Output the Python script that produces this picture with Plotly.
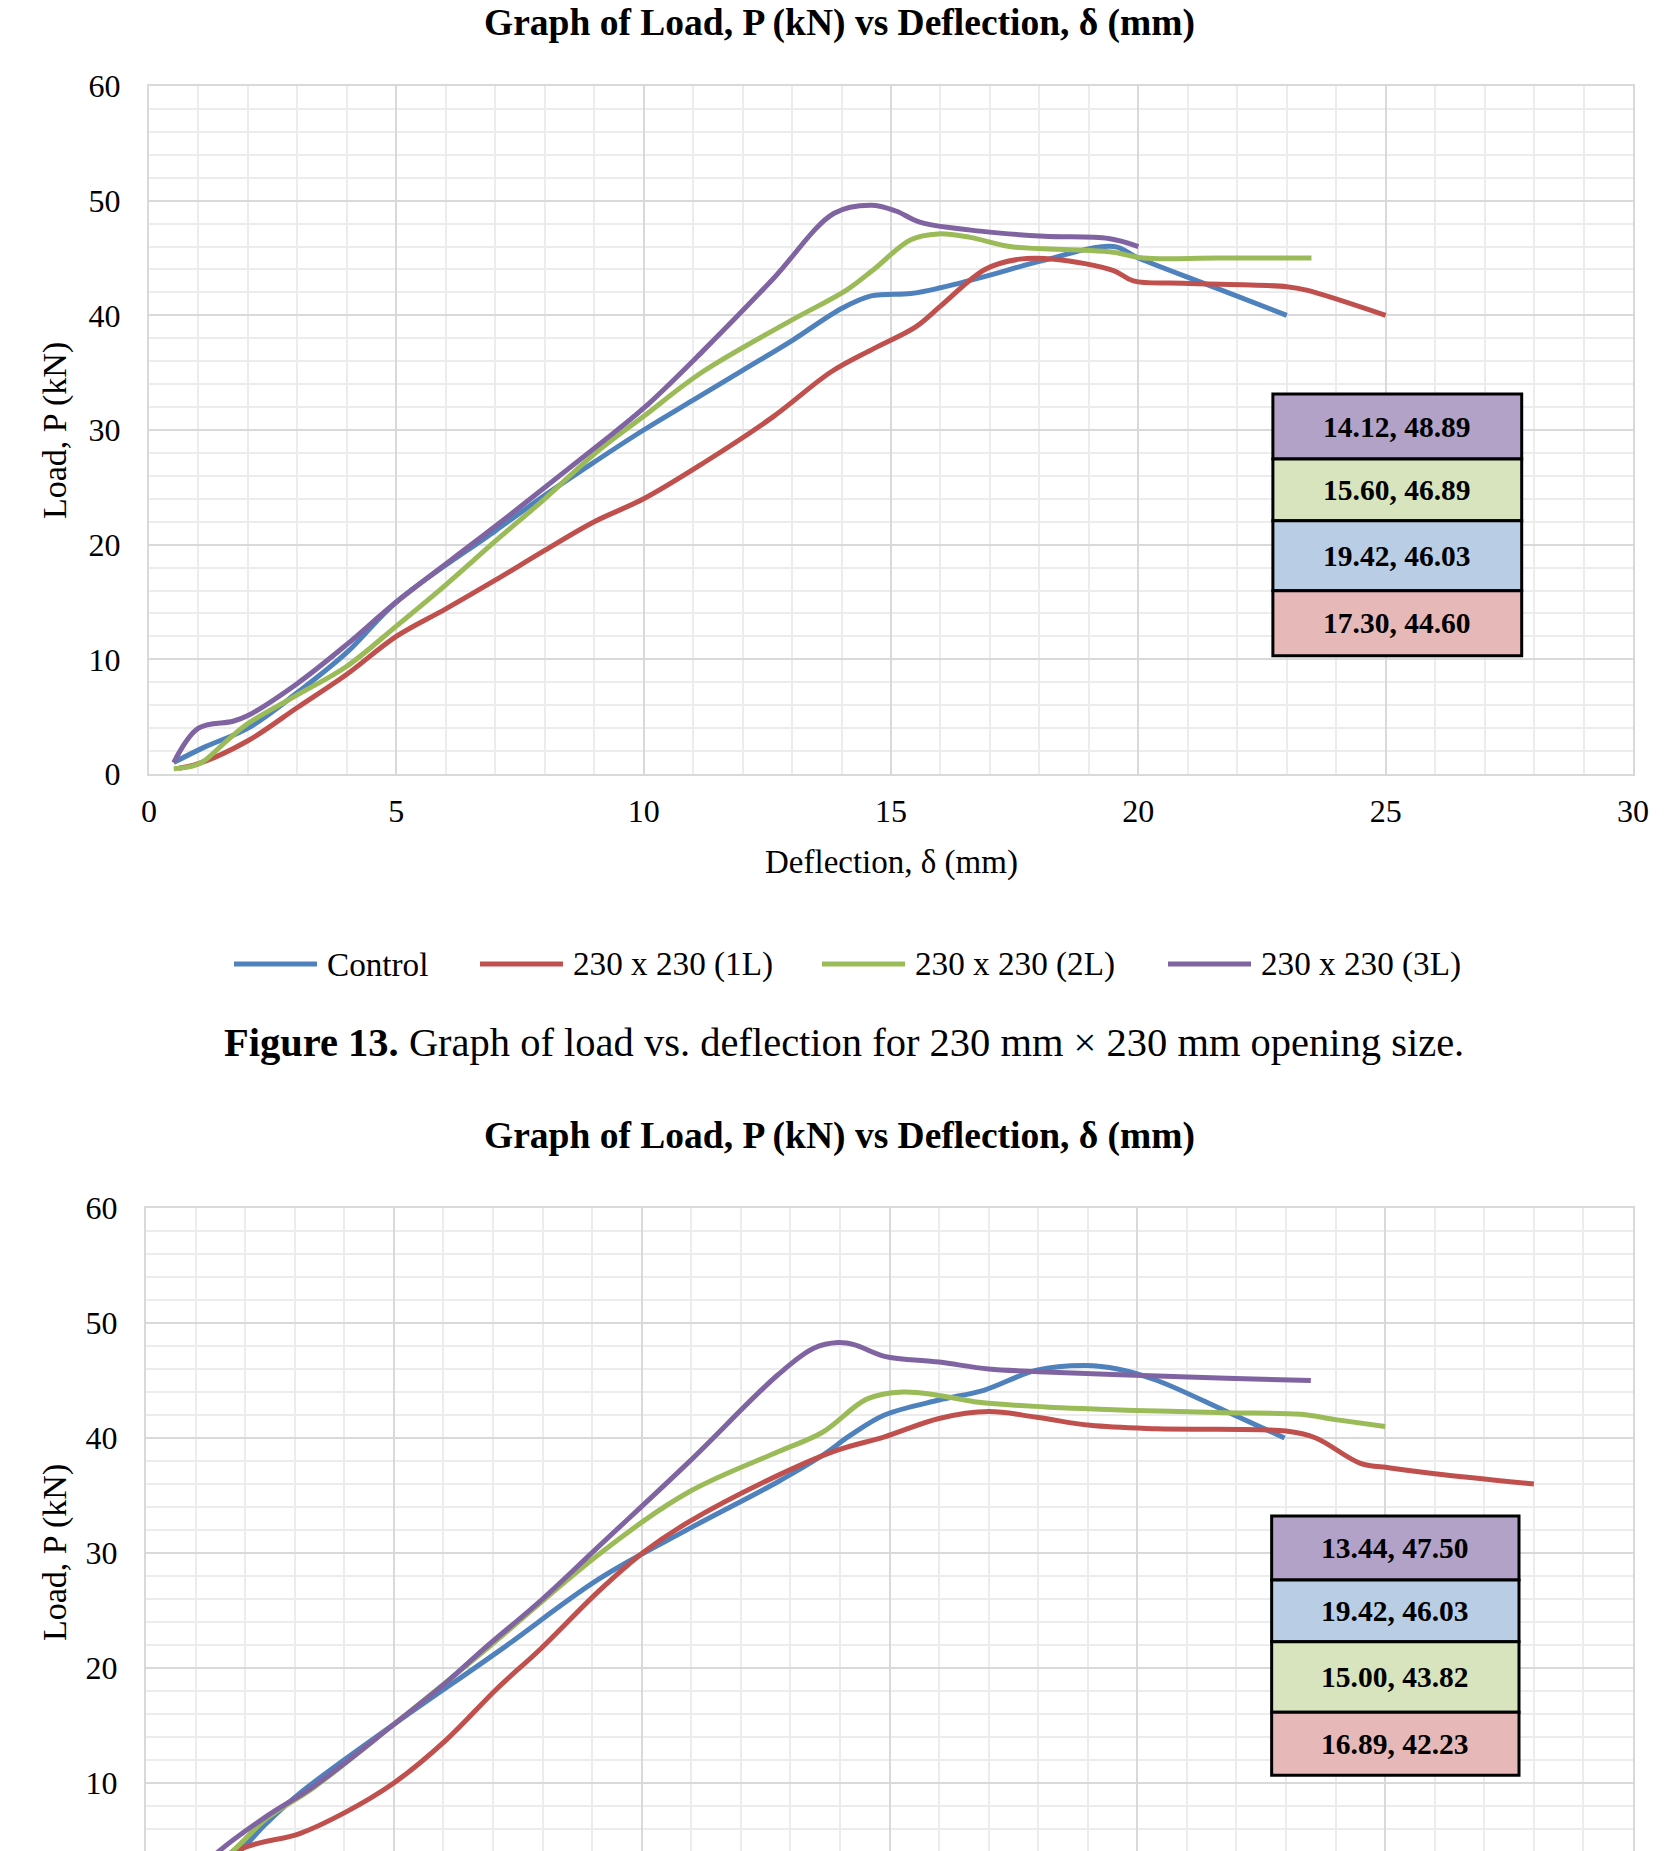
import plotly.graph_objects as go

W, H = 1677, 1851
FONT = "Liberation Serif"

series_names = ["Control", "230 x 230 (1L)", "230 x 230 (2L)", "230 x 230 (3L)"]
series_colors = ["#4f81bd", "#c0504d", "#9bbb59", "#8064a2"]
box_fill = ["#b9cde5", "#e6b9b8", "#d7e4bd", "#b3a2c7"]

x_ticks = [0, 5, 10, 15, 20, 25, 30]
y_ticks = [0, 10, 20, 30, 40, 50, 60]

# ---------------- Figure 13 data ----------------
f13_control_x = [0.5, 1.1, 2.0, 3.0, 4.0, 5.0, 7.0, 8.0, 9.0, 10.0, 11.0, 12.0, 13.0, 14.0, 14.6, 15.4, 16.0, 17.0, 18.0, 19.5, 20.0, 21.5, 23.0]
f13_control_y = [1.0, 2.3, 4.0, 7.1, 10.6, 15.0, 21.2, 24.3, 27.2, 30.0, 32.6, 35.2, 37.8, 40.6, 41.7, 41.9, 42.4, 43.5, 44.7, 46.0, 45.0, 42.5, 40.0]

f13_1l_x = [0.6, 1.0, 2.0, 3.0, 4.0, 5.0, 6.0, 7.0, 8.0, 9.0, 10.0, 11.2, 12.6, 13.8, 14.65, 15.5, 16.0, 16.9, 17.6, 18.3, 19.5, 19.9, 20.9, 23.0, 23.4, 25.0]
f13_1l_y = [0.5, 0.9, 2.9, 5.8, 8.7, 12.0, 14.4, 16.9, 19.5, 22.0, 24.0, 27.1, 31.1, 35.1, 37.1, 39.0, 40.8, 44.0, 44.9, 44.9, 43.9, 43.0, 42.8, 42.5, 42.2, 40.0]

f13_2l_x = [0.5, 0.9, 1.1, 1.6, 2.0, 3.0, 4.0, 5.0, 6.0, 7.0, 8.0, 9.0, 10.0, 11.2, 13.0, 14.1, 14.65, 15.4, 15.95, 16.6, 17.4, 18.8, 19.5, 20.1, 21.6, 23.5]
f13_2l_y = [0.45, 0.7, 1.1, 3.0, 4.4, 6.9, 9.4, 12.9, 16.5, 20.3, 24.0, 27.9, 31.2, 35.1, 39.6, 42.2, 44.0, 46.6, 47.1, 46.8, 46.0, 45.7, 45.5, 45.0, 45.0, 45.0]

f13_3l_x = [0.5, 1.0, 1.7, 2.0, 3.0, 4.0, 5.0, 7.0, 9.0, 10.0, 11.2, 12.6, 13.85, 14.6, 15.1, 15.6, 16.9, 18.1, 19.4, 20.0]
f13_3l_y = [1.0, 4.0, 4.6, 5.1, 7.9, 11.3, 15.0, 21.6, 28.4, 31.9, 36.9, 43.1, 48.9, 49.6, 49.1, 48.1, 47.3, 46.9, 46.7, 46.0]

f13_peak_labels = ["14.12, 48.89", "15.60, 46.89", "19.42, 46.03", "17.30, 44.60"]
f13_peak_series = [3, 2, 0, 1]

# ---------------- Second chart data ----------------
f14_control_x = [0.8, 1.89, 2.43, 3.1, 5.0, 7.16, 9.14, 10.95, 12.75, 13.65, 14.2, 14.9, 16.0, 16.9, 17.97, 18.96, 19.6, 20.4, 21.8, 22.97]
f14_control_y = [0.5, 4.1, 6.5, 9.1, 15.1, 21.6, 27.75, 32.1, 36.2, 38.5, 40.2, 42.0, 43.3, 44.15, 45.9, 46.3, 46.0, 45.0, 42.3, 40.0]

f14_1l_x = [1.0, 1.89, 3.1, 4.0, 5.0, 6.07, 7.08, 7.97, 9.14, 10.05, 10.95, 12.75, 13.92, 14.9, 16.0, 17.0, 17.97, 19.05, 20.4, 23.0, 23.6, 24.5, 25.1, 26.0, 28.0]
f14_1l_y = [1.0, 4.2, 5.6, 7.4, 10.0, 13.8, 18.2, 21.7, 26.7, 30.1, 32.7, 36.75, 38.9, 40.1, 41.7, 42.3, 41.8, 41.1, 40.8, 40.6, 40.0, 37.8, 37.4, 36.9, 36.0]

f14_2l_x = [0.7, 1.75, 2.43, 3.38, 5.0, 6.8, 9.14, 10.95, 12.75, 13.65, 14.55, 15.27, 16.0, 16.8, 18.15, 19.95, 21.8, 23.3, 24.0, 25.0]
f14_2l_y = [0.5, 4.1, 6.9, 9.6, 15.1, 21.4, 29.9, 35.3, 38.8, 40.5, 43.4, 44.0, 43.7, 43.1, 42.7, 42.4, 42.2, 42.06, 41.6, 41.0]

f14_3l_x = [0.6, 1.48, 2.43, 3.38, 5.0, 6.07, 6.8, 8.0, 9.14, 10.95, 12.75, 13.47, 13.96, 14.3, 14.9, 16.0, 17.0, 18.15, 19.95, 21.8, 23.5]
f14_3l_y = [0.5, 4.1, 7.1, 9.7, 15.1, 18.8, 21.6, 26.0, 30.6, 37.9, 45.5, 47.8, 48.3, 48.1, 47.1, 46.6, 46.0, 45.75, 45.45, 45.2, 45.0]

f14_peak_labels = ["13.44, 47.50", "19.42, 46.03", "15.00, 43.82", "16.89, 42.23"]
f14_peak_series = [3, 0, 2, 1]

title_text = "Graph of Load, P (kN) vs Deflection, δ (mm)"
x_title = "Deflection, δ (mm)"
y_title = "Load, P (kN)"
caption = "<b>Figure 13.</b> Graph of load vs. deflection for 230 mm × 230 mm opening size."

def pxx(x):
    return x / W

def pxy(y):
    return 1 - y / H

# ---------------- Build figure ----------------
fig = go.Figure()

f13 = [(f13_control_x, f13_control_y), (f13_1l_x, f13_1l_y), (f13_2l_x, f13_2l_y), (f13_3l_x, f13_3l_y)]
f14 = [(f14_control_x, f14_control_y), (f14_1l_x, f14_1l_y), (f14_2l_x, f14_2l_y), (f14_3l_x, f14_3l_y)]

for i, (xs, ys) in enumerate(f13):
    fig.add_trace(go.Scatter(x=xs, y=ys, mode="lines", name=series_names[i], showlegend=False,
                             line=dict(color=series_colors[i], width=5, shape="spline", smoothing=1.0),
                             xaxis="x", yaxis="y"))
for i, (xs, ys) in enumerate(f14):
    fig.add_trace(go.Scatter(x=xs, y=ys, mode="lines", name=series_names[i], showlegend=False,
                             line=dict(color=series_colors[i], width=5, shape="spline", smoothing=1.0),
                             xaxis="x2", yaxis="y2"))

MAJ = "#d9d9d9"
MIN = "#ececec"
tickfont = dict(family=FONT, size=32, color="#000000")

# pixel geometry of the two plot areas
p1_left, p1_right, p1_top, p1_bot = 149, 1633, 86, 774
p2_left, p2_right, p2_top = 146, 1633, 1208
px_per_unit2 = 11.5
y2_min = 60 - (H - p2_top) / px_per_unit2

def xa(domain, **kw):
    d = dict(domain=domain, range=[0, 30], tickmode="array", tickvals=x_ticks, automargin=False,
             showgrid=True, gridcolor=MAJ, gridwidth=2,
             minor=dict(dtick=1, tick0=0, showgrid=True, gridcolor=MIN, gridwidth=2),
             showline=True, linecolor=MAJ, linewidth=2, zeroline=False,
             ticks="", tickfont=tickfont, fixedrange=True)
    d.update(kw)
    return d

def ya(domain, rng, **kw):
    d = dict(domain=domain, range=rng, tickmode="array", tickvals=y_ticks, automargin=False,
             showgrid=True, gridcolor=MAJ, gridwidth=2,
             minor=dict(dtick=2, tick0=0, showgrid=True, gridcolor=MIN, gridwidth=2),
             showline=True, linecolor=MAJ, linewidth=2, mirror=True, zeroline=False,
             ticks="", tickfont=tickfont, fixedrange=True)
    d.update(kw)
    return d

fig.update_layout(
    width=W, height=H,
    margin=dict(l=0, r=0, t=0, b=0, autoexpand=False),
    paper_bgcolor="white", plot_bgcolor="white",
    showlegend=False,
    xaxis=xa([pxx(p1_left), pxx(p1_right)], anchor="y", mirror=True, ticklabelstandoff=8),
    yaxis=ya([pxy(p1_bot), pxy(p1_top)], [0, 60], anchor="x", ticklabelstandoff=20),
    xaxis2=xa([pxx(p2_left), pxx(p2_right)], anchor="y2", side="top", showticklabels=False, mirror=False),
    yaxis2=ya([0, pxy(p2_top)], [y2_min, 60], anchor="x2", ticklabelstandoff=20),
)

def px_ann(x, y, text, size, bold=False, angle=0, xanchor="center", yanchor="middle", family=FONT):
    t = f"<b>{text}</b>" if bold else text
    fig.add_annotation(xref="paper", yref="paper", x=pxx(x), y=pxy(y), text=t,
                       showarrow=False, xanchor=xanchor, yanchor=yanchor, textangle=angle,
                       font=dict(family=family, size=size, color="#000000"))

# titles (the top one is kept just inside the page)
px_ann(840, 0, title_text, 37.5, bold=True, yanchor="top")
px_ann(840, 1136, title_text, 37.5, bold=True)
# axis titles
px_ann(891, 862, x_title, 33)
px_ann(55, 430, y_title, 34, angle=-90)
px_ann(55, 1552, y_title, 34, angle=-90)
# caption
px_ann(844, 1042, caption, 40.5)

# custom legend
legend_x = [234, 480, 822, 1168]
legend_y = 964
for i, lx in enumerate(legend_x):
    fig.add_shape(type="line", xref="paper", yref="paper",
                  x0=pxx(lx), x1=pxx(lx + 83), y0=pxy(legend_y), y1=pxy(legend_y),
                  line=dict(color=series_colors[i], width=5))
    px_ann(lx + 91, legend_y, series_names[i], 33.2, xanchor="left")

# peak boxes
def boxes(xref, yref, x0, x1, edges, labels, series):
    for k in range(4):
        fig.add_shape(type="rect", xref=xref, yref=yref, x0=x0, x1=x1,
                      y0=edges[k + 1], y1=edges[k], fillcolor=box_fill[series[k]],
                      line=dict(color="#000000", width=3), layer="above")
        fig.add_annotation(xref=xref, yref=yref, x=(x0 + x1) / 2, y=(edges[k] + edges[k + 1]) / 2,
                           text=f"<b>{labels[k]}</b>", showarrow=False,
                           font=dict(family=FONT, size=29.5, color="#000000"))

boxes("x", "y", 22.72, 27.75, [33.14, 27.47, 22.09, 15.99, 10.32], f13_peak_labels, f13_peak_series)
boxes("x2", "y2", 22.71, 27.70, [33.22, 27.65, 22.29, 16.15, 10.67], f14_peak_labels, f14_peak_series)

fig.write_html("out.html", include_plotlyjs=True)
